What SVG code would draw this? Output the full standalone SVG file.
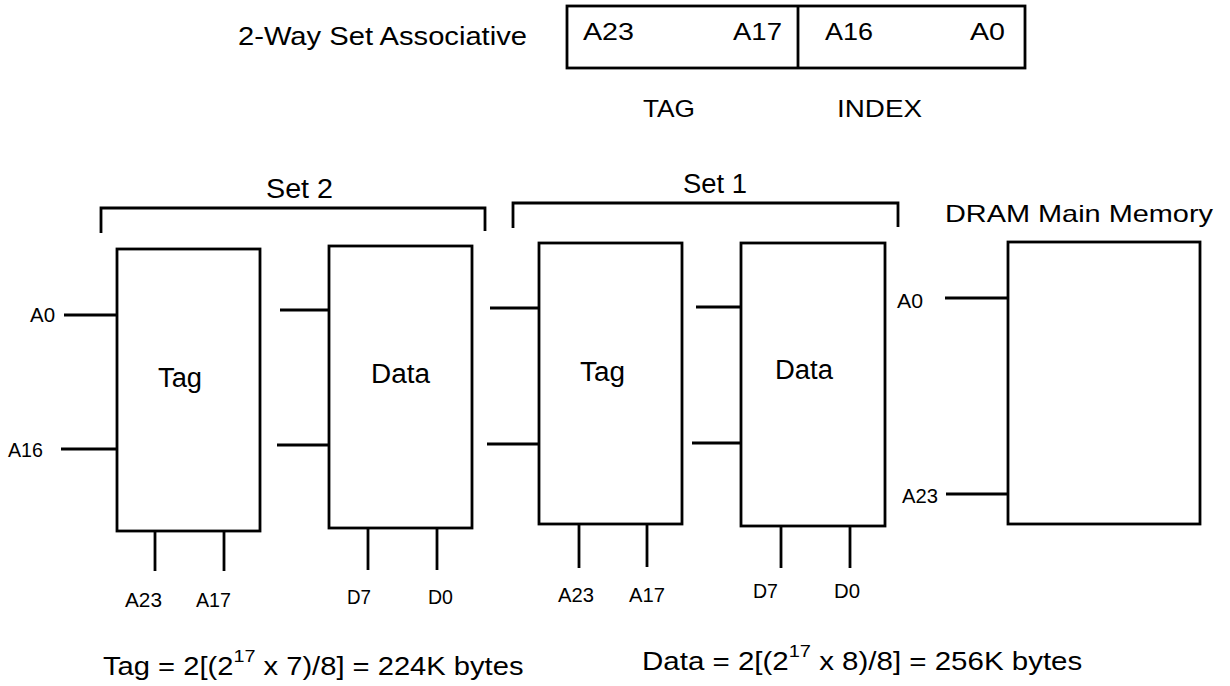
<svg xmlns="http://www.w3.org/2000/svg" width="1230" height="686" viewBox="0 0 1230 686">
<style>
  text { font-family: "Liberation Sans", Arial, sans-serif; fill: #000; }
  .box { fill: #fff; stroke: #000; stroke-width: 2.8; }
  .wire { stroke: #000; stroke-width: 2.8; fill: none; stroke-linecap: butt; }
  .big { font-size: 25px; }
  .mid { font-size: 24px; }
  .lbl { font-size: 27px; }
  .pin { font-size: 21px; }
</style>
<rect width="1230" height="686" fill="#fff"/>

<g id="title">
  <text class="big" x="238" y="45" textLength="289" lengthAdjust="spacingAndGlyphs">2-Way Set Associative</text>
</g>

<g id="address-format">
  <rect class="box" x="567" y="6" width="458" height="62"/>
  <line class="wire" x1="798" y1="6" x2="798" y2="68"/>
  <text class="mid" x="583" y="40" textLength="51" lengthAdjust="spacingAndGlyphs">A23</text>
  <text class="mid" x="733" y="40" textLength="49" lengthAdjust="spacingAndGlyphs">A17</text>
  <text class="mid" x="825" y="40" textLength="48" lengthAdjust="spacingAndGlyphs">A16</text>
  <text class="mid" x="970" y="40" textLength="35" lengthAdjust="spacingAndGlyphs">A0</text>
  <text class="mid" x="643" y="117" textLength="52" lengthAdjust="spacingAndGlyphs">TAG</text>
  <text class="mid" x="837" y="117" textLength="85" lengthAdjust="spacingAndGlyphs">INDEX</text>
</g>

<g id="brackets">
  <path class="wire" d="M101 233 V208 H485 V231"/>
  <text class="lbl" x="266" y="198" textLength="67" lengthAdjust="spacingAndGlyphs">Set 2</text>
  <path class="wire" d="M513 228 V203 H898 V227"/>
  <text class="lbl" x="683" y="193" textLength="64" lengthAdjust="spacingAndGlyphs">Set 1</text>
</g>

<g id="set2-tag">
  <rect class="box" x="117" y="249" width="143" height="282"/>
  <text class="lbl" x="158" y="387" textLength="44" lengthAdjust="spacingAndGlyphs">Tag</text>
</g>
<g id="set2-data">
  <rect class="box" x="329" y="246" width="143" height="282"/>
  <text class="lbl" x="371" y="383" textLength="59" lengthAdjust="spacingAndGlyphs">Data</text>
</g>
<g id="set1-tag">
  <rect class="box" x="539" y="243" width="143" height="281"/>
  <text class="lbl" x="580" y="381" textLength="45" lengthAdjust="spacingAndGlyphs">Tag</text>
</g>
<g id="set1-data">
  <rect class="box" x="741" y="243" width="144" height="283"/>
  <text class="lbl" x="775" y="379" textLength="58" lengthAdjust="spacingAndGlyphs">Data</text>
</g>
<g id="dram">
  <rect class="box" x="1008" y="242" width="192" height="282"/>
  <text class="mid" x="945" y="222" textLength="268" lengthAdjust="spacingAndGlyphs">DRAM Main Memory</text>
</g>

<g id="connectors">
  <line class="wire" x1="64" y1="315" x2="117" y2="315"/>
  <line class="wire" x1="61" y1="449" x2="117" y2="449"/>
  <line class="wire" x1="280" y1="310" x2="329" y2="310"/>
  <line class="wire" x1="277" y1="445" x2="329" y2="445"/>
  <line class="wire" x1="490" y1="308" x2="539" y2="308"/>
  <line class="wire" x1="487" y1="444" x2="539" y2="444"/>
  <line class="wire" x1="696" y1="307" x2="741" y2="307"/>
  <line class="wire" x1="692" y1="443" x2="741" y2="443"/>
  <line class="wire" x1="945" y1="298" x2="1008" y2="298"/>
  <line class="wire" x1="946" y1="494" x2="1008" y2="494"/>

  <line class="wire" x1="155" y1="531" x2="155" y2="571"/>
  <line class="wire" x1="224" y1="531" x2="224" y2="571"/>
  <line class="wire" x1="368" y1="528" x2="368" y2="570"/>
  <line class="wire" x1="437" y1="528" x2="437" y2="570"/>
  <line class="wire" x1="579" y1="524" x2="579" y2="568"/>
  <line class="wire" x1="647" y1="524" x2="647" y2="567"/>
  <line class="wire" x1="781" y1="526" x2="781" y2="568"/>
  <line class="wire" x1="850" y1="526" x2="850" y2="568"/>
</g>

<g id="pin-labels">
  <text class="pin" x="30" y="322" textLength="25" lengthAdjust="spacingAndGlyphs">A0</text>
  <text class="pin" x="8" y="457" textLength="35" lengthAdjust="spacingAndGlyphs">A16</text>
  <text class="pin" x="897" y="308" textLength="26" lengthAdjust="spacingAndGlyphs">A0</text>
  <text class="pin" x="902" y="503" textLength="36" lengthAdjust="spacingAndGlyphs">A23</text>
  <text class="pin" x="125" y="607" textLength="37" lengthAdjust="spacingAndGlyphs">A23</text>
  <text class="pin" x="196" y="607" textLength="35" lengthAdjust="spacingAndGlyphs">A17</text>
  <text class="pin" x="347" y="604" textLength="24" lengthAdjust="spacingAndGlyphs">D7</text>
  <text class="pin" x="428" y="604" textLength="25" lengthAdjust="spacingAndGlyphs">D0</text>
  <text class="pin" x="558" y="602" textLength="36" lengthAdjust="spacingAndGlyphs">A23</text>
  <text class="pin" x="629" y="602" textLength="36" lengthAdjust="spacingAndGlyphs">A17</text>
  <text class="pin" x="753" y="598" textLength="25" lengthAdjust="spacingAndGlyphs">D7</text>
  <text class="pin" x="834" y="598" textLength="26" lengthAdjust="spacingAndGlyphs">D0</text>
</g>

<g id="equations">
  <text class="big" transform="translate(103 675) scale(1.166 1)" x="0" y="0">Tag = 2[(2<tspan font-size="17" dy="-13">17</tspan><tspan dy="13"> x 7)/8] = 224K bytes</tspan></text>
  <text class="big" transform="translate(642 670) scale(1.18 1)" x="0" y="0">Data = 2[(2<tspan font-size="17" dy="-13">17</tspan><tspan dy="13"> x 8)/8] = 256K bytes</tspan></text>
</g>
</svg>
